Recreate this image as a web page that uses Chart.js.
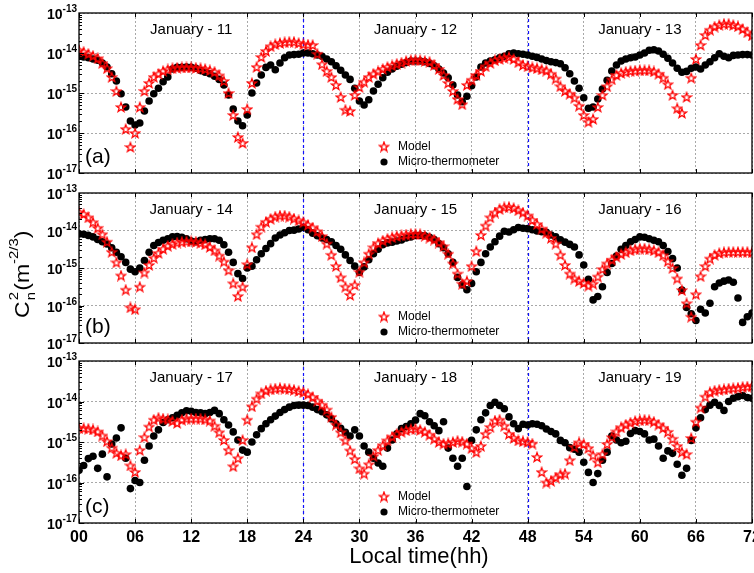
<!DOCTYPE html>
<html>
<head>
<meta charset="utf-8">
<title>Cn2 - Model vs Micro-thermometer</title>
<script src="https://cdn.jsdelivr.net/npm/chart.js@4.4.1/dist/chart.umd.min.js"></script>
<style>
  body { margin: 0; background: #fff; }
  #wrap { position: relative; width: 754px; height: 573px; overflow: hidden; }
  #wrap canvas { position: absolute; left: 0; top: 0; }
</style>
</head>
<body>
<div id="wrap">
  <canvas id="panelA" width="760" height="573"></canvas>
  <canvas id="panelB" width="760" height="573"></canvas>
  <canvas id="panelC" width="760" height="573"></canvas>
</div>
<script>
// sample times (local time, hours), one value every half hour
const hours = [];
for (let h = 0; h <= 72; h += 0.5) hours.push(h);

const xTickLabels = ["00", "06", "12", "18", "24", "30", "36", "42", "48", "54", "60", "66", "72"];
const yExponents = [-13, -14, -15, -16, -17];
const dayBreaks = [24, 48];
const dayCentres = [12, 36, 60];

const daysA = ["January - 11", "January - 12", "January - 13"];
const daysB = ["January - 14", "January - 15", "January - 16"];
const daysC = ["January - 17", "January - 18", "January - 19"];

// Cn2 values, stored as log10 (e.g. -14.3 means 10^-14.3)
// one row = 6 hours
const modelA = [
  -13.93,-13.97,-14.02,-14.07,-14.13,-14.25,-14.38,-14.6,-14.95,-15.35,-15.9,-16.35,
  -16.0,-15.35,-14.95,-14.75,-14.6,-14.52,-14.45,-14.41,-14.38,-14.37,-14.36,-14.36,
  -14.36,-14.37,-14.38,-14.4,-14.43,-14.47,-14.56,-14.7,-15.0,-15.55,-16.1,-16.25,
  -15.4,-14.75,-14.35,-14.1,-13.95,-13.83,-13.78,-13.75,-13.73,-13.72,-13.72,-13.75,
  -13.78,-13.79,-13.8,-14.02,-14.28,-14.45,-14.6,-14.8,-15.1,-15.42,-15.45,-15.05,
  -14.85,-14.72,-14.6,-14.52,-14.46,-14.4,-14.35,-14.31,-14.27,-14.24,-14.2,-14.18,
  -14.17,-14.18,-14.2,-14.22,-14.3,-14.4,-14.55,-14.75,-14.95,-15.15,-15.28,-14.8,
  -14.67,-14.55,-14.45,-14.33,-14.25,-14.18,-14.15,-14.12,-14.1,-14.15,-14.23,-14.3,
  -14.33,-14.36,-14.38,-14.41,-14.44,-14.52,-14.64,-14.83,-14.95,-15.02,-15.12,-15.32,
  -15.55,-15.72,-15.65,-15.35,-15.05,-14.83,-14.66,-14.55,-14.5,-14.47,-14.45,-14.44,
  -14.43,-14.43,-14.43,-14.46,-14.52,-14.62,-14.78,-15.05,-15.38,-15.5,-15.1,-14.62,
  -14.15,-13.8,-13.55,-13.42,-13.34,-13.3,-13.27,-13.27,-13.3,-13.33,-13.4,-13.48,
  -13.56
];
const thermoA = [
  -14.08,-14.1,-14.12,-14.15,-14.18,-14.25,-14.35,-14.52,-14.7,-15.02,-15.35,-15.7,
  -15.8,-15.75,-15.45,-15.2,-15.02,-14.88,-14.72,-14.6,-14.4,-14.36,-14.36,-14.35,
  -14.36,-14.38,-14.44,-14.48,-14.52,-14.58,-14.66,-14.8,-15.05,-15.4,-15.7,-15.82,
  -15.55,-15.0,-14.75,-14.55,-14.36,-14.3,-14.42,-14.25,-14.12,-14.05,-14.04,-14.03,
  -14.0,-14.0,-14.02,-14.05,-14.08,-14.15,-14.22,-14.32,-14.43,-14.55,-14.66,-14.88,
  -15.2,-15.3,-15.17,-14.95,-14.78,-14.62,-14.48,-14.4,-14.33,-14.28,-14.24,-14.2,
  -14.2,-14.2,-14.22,-14.26,-14.32,-14.4,-14.5,-14.62,-14.8,-15.05,-15.22,-15.08,
  -14.82,-14.6,-14.35,-14.25,-14.2,-14.17,-14.12,-14.08,-14.02,-14.0,-14.02,-14.03,
  -14.05,-14.08,-14.11,-14.15,-14.19,-14.22,-14.24,-14.27,-14.37,-14.52,-14.7,-14.88,
  -15.12,-15.38,-15.35,-15.15,-14.9,-14.68,-14.45,-14.3,-14.2,-14.15,-14.12,-14.1,
  -14.05,-14.0,-13.93,-13.92,-13.95,-14.03,-14.13,-14.25,-14.38,-14.48,-14.46,-14.38,
  -14.35,-14.4,-14.3,-14.22,-14.12,-14.02,-14.08,-14.12,-14.06,-14.05,-14.04,-14.04,
  -14.05
];

const modelB = [
  -13.51,-13.56,-13.65,-13.78,-13.93,-14.1,-14.3,-14.57,-14.85,-15.2,-15.58,-16.05,
  -16.1,-15.5,-15.12,-14.92,-14.73,-14.6,-14.49,-14.41,-14.36,-14.32,-14.3,-14.29,
  -14.29,-14.3,-14.33,-14.37,-14.44,-14.53,-14.67,-14.83,-15.06,-15.41,-15.75,-15.5,
  -14.9,-14.45,-14.1,-13.9,-13.77,-13.69,-13.63,-13.6,-13.6,-13.63,-13.68,-13.73,
  -13.78,-13.85,-13.92,-14.02,-14.15,-14.35,-14.65,-14.95,-15.25,-15.5,-15.72,-15.45,
  -15.1,-14.85,-14.62,-14.45,-14.34,-14.27,-14.22,-14.18,-14.15,-14.13,-14.11,-14.09,
  -14.09,-14.1,-14.14,-14.19,-14.24,-14.32,-14.42,-14.62,-14.88,-15.15,-15.42,-15.35,
  -14.95,-14.55,-14.12,-13.87,-13.65,-13.52,-13.43,-13.38,-13.37,-13.4,-13.46,-13.52,
  -13.6,-13.72,-13.83,-13.95,-14.06,-14.2,-14.35,-14.65,-14.92,-15.15,-15.28,-15.35,
  -15.4,-15.47,-15.42,-15.23,-15.03,-14.88,-14.78,-14.7,-14.63,-14.58,-14.53,-14.5,
  -14.48,-14.48,-14.5,-14.53,-14.58,-14.66,-14.82,-15.0,-15.28,-15.59,-15.94,-16.3,
  -15.7,-15.22,-14.95,-14.75,-14.65,-14.6,-14.58,-14.57,-14.57,-14.57,-14.57,-14.57,
  -14.58
];
const thermoB = [
  -14.09,-14.1,-14.13,-14.17,-14.24,-14.3,-14.36,-14.46,-14.58,-14.7,-14.85,-15.03,
  -15.1,-15.0,-14.8,-14.58,-14.4,-14.32,-14.26,-14.22,-14.17,-14.16,-14.18,-14.22,
  -14.28,-14.3,-14.26,-14.24,-14.22,-14.22,-14.26,-14.38,-14.58,-14.85,-15.15,-15.28,
  -15.0,-14.95,-14.78,-14.62,-14.48,-14.35,-14.2,-14.12,-14.06,-14.0,-13.99,-13.96,
  -13.92,-13.98,-14.07,-14.14,-14.2,-14.24,-14.3,-14.4,-14.5,-14.65,-14.8,-14.95,
  -15.12,-14.97,-14.78,-14.62,-14.5,-14.38,-14.33,-14.31,-14.28,-14.25,-14.2,-14.17,
  -14.13,-14.13,-14.14,-14.18,-14.24,-14.35,-14.46,-14.62,-14.85,-15.25,-15.45,-15.58,
  -15.41,-15.1,-14.85,-14.62,-14.44,-14.3,-14.15,-14.02,-14.04,-13.98,-13.92,-13.94,
  -13.95,-13.98,-14.01,-14.03,-14.05,-14.12,-14.17,-14.25,-14.31,-14.37,-14.44,-14.65,
  -14.92,-15.3,-15.85,-15.76,-15.5,-15.12,-14.88,-14.68,-14.5,-14.4,-14.3,-14.24,
  -14.17,-14.18,-14.22,-14.26,-14.3,-14.4,-14.56,-14.75,-15.0,-15.59,-16.05,-16.22,
  -16.4,-16.1,-16.2,-15.94,-15.5,-15.4,-15.35,-15.32,-15.38,-15.8,-16.45,-16.3,
  -16.2
];

const modelC = [
  -14.65,-14.66,-14.67,-14.69,-14.74,-14.84,-14.98,-15.14,-15.27,-15.33,-15.3,-15.58,
  -15.74,-15.2,-14.88,-14.62,-14.45,-14.4,-14.42,-14.44,-14.48,-14.53,-14.45,-14.42,
  -14.42,-14.42,-14.42,-14.44,-14.47,-14.6,-14.76,-14.95,-15.2,-15.6,-15.4,-14.95,
  -14.45,-14.12,-13.93,-13.8,-13.73,-13.7,-13.68,-13.67,-13.68,-13.69,-13.71,-13.74,
  -13.77,-13.82,-13.89,-13.98,-14.08,-14.2,-14.38,-14.57,-14.76,-14.96,-15.21,-15.42,
  -15.65,-15.78,-15.55,-15.35,-15.2,-15.08,-14.96,-14.87,-14.8,-14.75,-14.71,-14.68,
  -14.67,-14.7,-14.75,-14.82,-14.92,-15.0,-15.04,-15.03,-15.0,-14.97,-14.99,-15.04,
  -15.15,-15.25,-15.1,-14.8,-14.63,-14.47,-14.45,-14.6,-14.8,-14.9,-14.96,-14.98,
  -15.0,-15.04,-15.37,-15.74,-16.0,-15.96,-15.88,-15.8,-15.78,-15.45,-15.12,-15.01,
  -15.05,-15.15,-15.33,-15.5,-15.3,-15.05,-14.88,-14.74,-14.64,-14.57,-14.52,-14.48,
  -14.46,-14.45,-14.46,-14.5,-14.57,-14.65,-14.75,-14.92,-15.1,-15.25,-15.3,-14.9,
  -14.5,-14.15,-13.88,-13.77,-13.73,-13.71,-13.7,-13.68,-13.67,-13.66,-13.64,-13.63,
  -13.62
];
const thermoC = [
  -15.7,-15.58,-15.41,-15.35,-15.65,-15.3,-15.86,-15.05,-14.9,-14.65,-15.4,-16.15,
  -15.95,-16.0,-15.45,-15.1,-14.85,-14.7,-14.52,-14.45,-14.4,-14.34,-14.28,-14.23,
  -14.24,-14.27,-14.28,-14.3,-14.27,-14.22,-14.3,-14.45,-14.58,-14.75,-14.95,-15.2,
  -15.25,-15.0,-14.82,-14.67,-14.55,-14.45,-14.36,-14.27,-14.2,-14.14,-14.1,-14.09,
  -14.09,-14.1,-14.14,-14.2,-14.25,-14.33,-14.43,-14.55,-14.66,-14.76,-14.85,-14.7,
  -14.85,-15.1,-15.25,-15.4,-15.52,-15.6,-15.15,-14.95,-14.8,-14.67,-14.62,-14.55,
  -14.46,-14.3,-14.35,-14.5,-14.6,-14.72,-14.5,-15.15,-15.4,-15.6,-15.4,-16.1,
  -14.96,-14.7,-14.45,-14.28,-14.1,-14.02,-14.1,-14.18,-14.38,-14.55,-14.67,-14.56,
  -14.58,-14.55,-14.56,-14.6,-14.68,-14.74,-14.8,-14.96,-15.02,-15.14,-15.18,-15.25,
  -15.5,-15.75,-16.0,-15.78,-15.45,-15.25,-14.85,-14.95,-15.02,-14.98,-14.79,-14.72,
  -14.74,-14.8,-14.95,-14.93,-15.1,-15.4,-15.22,-15.28,-15.55,-15.82,-15.65,-14.96,
  -14.65,-14.4,-14.2,-14.09,-14.02,-14.1,-14.22,-14.0,-13.92,-13.88,-13.85,-13.9,
  -13.92
];

const FONT = '"Liberation Sans", Arial, sans-serif';
const xTickHours = xTickLabels.map(Number);

const toPoints = (logs) => logs.map((e, i) => ({ x: hours[i], y: Math.pow(10, e) }));

// hollow red pentagram, like the matlab "p" marker
function makeStar(color) {
  const c = document.createElement("canvas");
  c.width = 12;
  c.height = 12;
  const g = c.getContext("2d");
  g.strokeStyle = color;
  g.lineWidth = 1.3;
  g.beginPath();
  for (let i = 0; i < 10; i++) {
    const r = i % 2 === 0 ? 4.9 : 2.0;
    const a = -Math.PI / 2 + (i * Math.PI) / 5;
    const px = 6 + r * Math.cos(a);
    const py = 6.5 + r * Math.sin(a);
    if (i === 0) g.moveTo(px, py);
    else g.lineTo(px, py);
  }
  g.closePath();
  g.stroke();
  return c;
}
const starImg = makeStar("#ff0000");

// frame, ticks, labels, legend etc. for one panel
const panelDecor = {
  id: "panelDecor",
  beforeDatasetsDraw(chart) {
    const { ctx, chartArea: a } = chart;
    const x = chart.scales.x;
    ctx.save();
    ctx.strokeStyle = "#1010ff";
    ctx.lineWidth = 1.2;
    ctx.setLineDash([3, 3]);
    dayBreaks.forEach((h) => {
      const px = Math.round(x.getPixelForValue(h)) + 0.5;
      ctx.beginPath();
      ctx.moveTo(px, a.top);
      ctx.lineTo(px, a.bottom);
      ctx.stroke();
    });
    ctx.restore();
  },
  afterDraw(chart, args, opts) {
    const { ctx, chartArea: a } = chart;
    const x = chart.scales.x;
    const y = chart.scales.y;
    ctx.save();

    // frame
    ctx.strokeStyle = "#000";
    ctx.lineWidth = 1.3;
    ctx.strokeRect(a.left, a.top, a.right - a.left, a.bottom - a.top);

    // inward ticks
    ctx.lineWidth = 1;
    ctx.beginPath();
    xTickHours.forEach((h) => {
      const px = Math.round(x.getPixelForValue(h)) + 0.5;
      ctx.moveTo(px, a.bottom);
      ctx.lineTo(px, a.bottom - 4);
      ctx.moveTo(px, a.top);
      ctx.lineTo(px, a.top + 4);
    });
    for (let e = -17; e < -13; e++) {
      for (let m = 1; m < 10; m++) {
        const py = Math.round(y.getPixelForValue(m * Math.pow(10, e))) + 0.5;
        ctx.moveTo(a.left, py);
        ctx.lineTo(a.left + (m === 1 ? 5 : 3), py);
      }
    }
    ctx.stroke();

    // y tick labels 10^n
    ctx.fillStyle = "#000";
    ctx.textBaseline = "alphabetic";
    ctx.textAlign = "left";
    yExponents.forEach((e) => {
      const gy = y.getPixelForValue(Math.pow(10, e));
      ctx.font = "bold 10px " + FONT;
      const sup = String(e);
      const supW = ctx.measureText(sup).width;
      ctx.font = "bold 14px " + FONT;
      const tenW = ctx.measureText("10").width;
      const x0 = 77 - supW - tenW;
      ctx.fillText("10", x0, gy + 6);
      ctx.font = "bold 10px " + FONT;
      ctx.fillText(sup, x0 + tenW, gy - 1);
    });

    // day names
    ctx.font = "15px " + FONT;
    ctx.textAlign = "center";
    opts.days.forEach((d, i) => {
      ctx.fillText(d, x.getPixelForValue(dayCentres[i]), a.top + 21);
    });

    // panel letter
    ctx.font = "21px " + FONT;
    ctx.textAlign = "left";
    ctx.fillText(opts.letter, 85, a.bottom - 10);

    // legend
    const lx = 384;
    ctx.drawImage(starImg, lx - 6, a.bottom - 26 - 6.5);
    ctx.beginPath();
    ctx.arc(lx, a.bottom - 11, 3.6, 0, Math.PI * 2);
    ctx.fill();
    ctx.font = "12px " + FONT;
    ctx.textBaseline = "middle";
    ctx.fillText("Model", 398, a.bottom - 26);
    ctx.fillText("Micro-thermometer", 398, a.bottom - 11);

    if (opts.bottomAxis) {
      // x tick labels
      ctx.textBaseline = "alphabetic";
      ctx.textAlign = "center";
      ctx.font = "bold 16px " + FONT;
      xTickLabels.forEach((t, i) => {
        ctx.fillText(t, x.getPixelForValue(xTickHours[i]), a.bottom + 19);
      });
      ctx.font = "22px " + FONT;
      ctx.fillText("Local time(hh)", 419, 563);

      // y axis title: Cn^2 (m^-2/3), rotated
      ctx.save();
      ctx.translate(29, 318);
      ctx.rotate(-Math.PI / 2);
      ctx.scale(1.15, 1);
      ctx.textAlign = "left";
      let cx = 0;
      ctx.font = "20px " + FONT;
      ctx.fillText("C", cx, 0);
      cx += ctx.measureText("C").width + 1;
      ctx.font = "13px " + FONT;
      ctx.fillText("n", cx, 6);
      ctx.fillText("2", cx, -11);
      cx += ctx.measureText("n").width + 1;
      ctx.font = "20px " + FONT;
      ctx.fillText("(m", cx, 0);
      cx += ctx.measureText("(m").width;
      ctx.font = "13px " + FONT;
      ctx.fillText("-2/3", cx, -11);
      cx += ctx.measureText("-2/3").width;
      ctx.font = "20px " + FONT;
      ctx.fillText(")", cx, 0);
      ctx.restore();
    }
    ctx.restore();
  },
};

function makePanel(id, top, bottom, modelLog, thermoLog, days, letter, bottomAxis) {
  new Chart(document.getElementById(id), {
    type: "scatter",
    data: {
      datasets: [
        {
          label: "Model",
          data: toPoints(modelLog),
          pointStyle: starImg,
          pointRadius: 5,
          order: 1,
          clip: 0,
        },
        {
          label: "Micro-thermometer",
          data: toPoints(thermoLog),
          pointStyle: "circle",
          pointRadius: 3.8,
          backgroundColor: "#000",
          borderColor: "#000",
          borderWidth: 0,
          order: 2,
          clip: 0,
        },
      ],
    },
    options: {
      responsive: false,
      animation: false,
      events: [],
      layout: { padding: { left: 79, right: 8, top: top, bottom: 573 - bottom } },
      plugins: {
        legend: { display: false },
        tooltip: { enabled: false },
        panelDecor: { days: days, letter: letter, bottomAxis: bottomAxis },
      },
      scales: {
        x: {
          type: "linear",
          min: 0,
          max: 72,
          afterFit: (s) => { s.height = 0; },
          afterBuildTicks: (s) => { s.ticks = xTickHours.map((v) => ({ value: v })); },
          ticks: { display: false },
          grid: { drawTicks: false, color: "#a8a8a8", lineWidth: 1 },
          border: { display: false, dash: [2, 2] },
        },
        y: {
          type: "logarithmic",
          min: 1e-17,
          max: 1e-13,
          afterFit: (s) => { s.width = 0; },
          afterBuildTicks: (s) => { s.ticks = yExponents.map((e) => ({ value: Math.pow(10, e) })); },
          ticks: { display: false },
          grid: { drawTicks: false, color: "#a8a8a8", lineWidth: 1 },
          border: { display: false, dash: [2, 2] },
        },
      },
    },
    plugins: [panelDecor],
  });
}

makePanel("panelA", 13, 173, modelA, thermoA, daysA, "(a)", false);
makePanel("panelB", 193, 343, modelB, thermoB, daysB, "(b)", false);
makePanel("panelC", 361, 523, modelC, thermoC, daysC, "(c)", true);
</script>
</body>
</html>
